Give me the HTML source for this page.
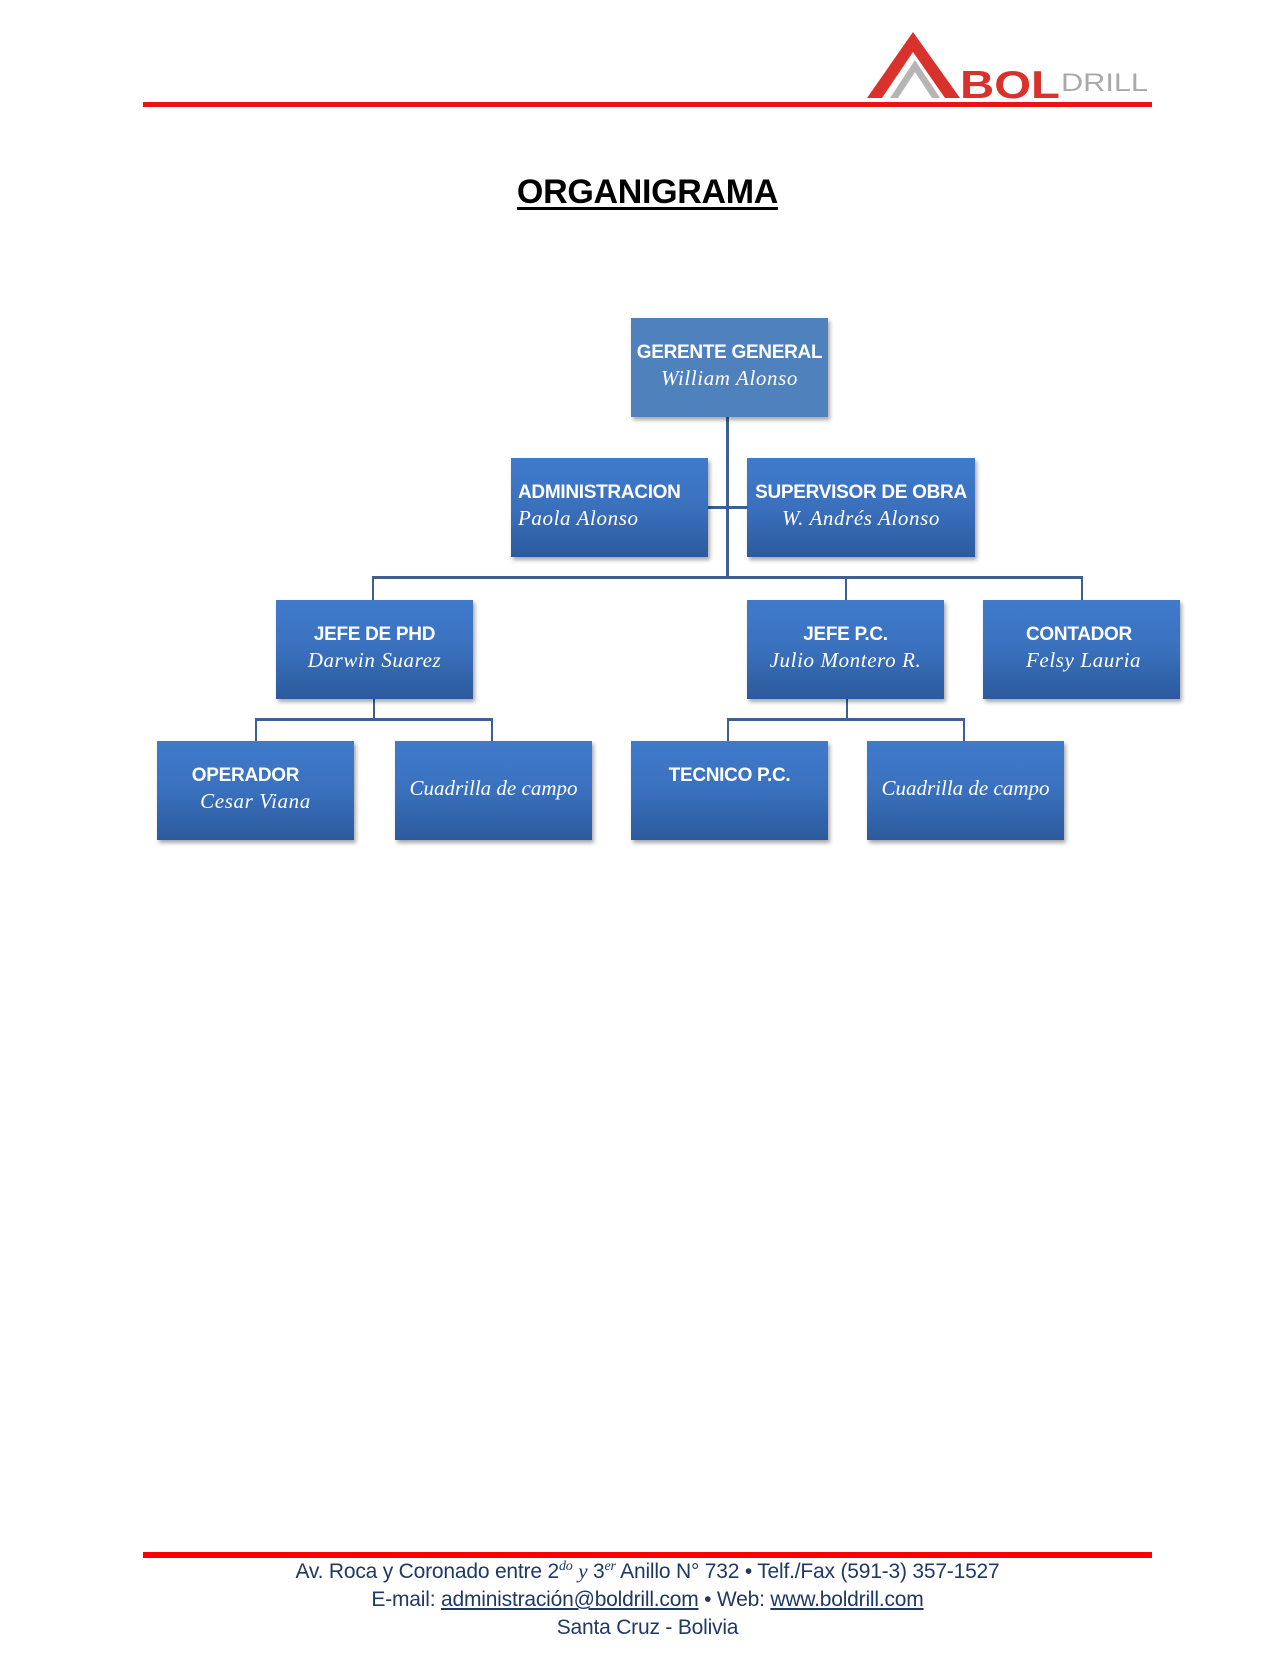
<!DOCTYPE html>
<html><head><meta charset="utf-8"><style>
body{margin:0;width:1275px;height:1672px;background:#fff;position:relative;overflow:hidden;font-family:"Liberation Sans",sans-serif}
.abs{position:absolute}
.box{position:absolute;width:197px;height:99px;background:linear-gradient(#3f7acb 0%,#3b72c0 45%,#2c5a9c 100%);box-shadow:2px 3px 4px rgba(0,0,0,.35);color:#fff;text-align:center;box-sizing:border-box;padding-top:26px}
.t{font-family:"Liberation Sans",sans-serif;font-weight:bold;font-size:19px;line-height:25px;letter-spacing:-.3px}
.n{font-family:"Liberation Serif","DejaVu Serif",serif;font-style:italic;font-size:21px;line-height:26px;letter-spacing:.6px}
.l{position:absolute;background:#3d5f91}
.f{position:absolute;left:0;width:1295px;text-align:center;color:#1f3864;font-size:21px;letter-spacing:-.2px}
</style></head><body>
<!-- header -->
<div class="abs" style="left:143px;top:102px;width:1009px;height:5px;background:#e8141a"></div>
<svg class="abs" style="left:860px;top:20px" width="300" height="90">
<polygon points="7,78 53,12 100,78 85,78 53,32 22,78" fill="#d9322c"/>
<polygon points="30,78 55,40 80,78 72,78 55,52 38,78" fill="#b5b5b5"/>
<text x="100" y="78" font-family="Liberation Sans" font-weight="bold" font-size="39" fill="#d9322c" textLength="100" lengthAdjust="spacingAndGlyphs">BOL</text>
<text x="201" y="71" font-family="Liberation Sans" font-size="25" fill="#a9a9a9" textLength="87" lengthAdjust="spacingAndGlyphs">DRILL</text>
</svg>
<div class="abs" style="left:0;width:1295px;top:173px;text-align:center;font-weight:bold;font-size:34px;text-decoration:underline;text-decoration-thickness:3px;text-underline-offset:4px;letter-spacing:-.3px">ORGANIGRAMA</div>

<!-- connectors -->
<div class="l" style="left:726px;top:415px;width:3px;height:164px"></div>
<div class="l" style="left:707px;top:506px;width:40px;height:3px"></div>
<div class="l" style="left:372px;top:576px;width:711px;height:3px"></div>
<div class="l" style="left:372px;top:576px;width:2px;height:24px"></div>
<div class="l" style="left:845px;top:576px;width:2px;height:24px"></div>
<div class="l" style="left:1081px;top:576px;width:2px;height:24px"></div>
<div class="l" style="left:373px;top:699px;width:2px;height:21px"></div>
<div class="l" style="left:255px;top:718px;width:237px;height:3px"></div>
<div class="l" style="left:255px;top:718px;width:2px;height:23px"></div>
<div class="l" style="left:491px;top:718px;width:2px;height:23px"></div>
<div class="l" style="left:846px;top:699px;width:2px;height:21px"></div>
<div class="l" style="left:727px;top:718px;width:237px;height:3px"></div>
<div class="l" style="left:727px;top:718px;width:2px;height:23px"></div>
<div class="l" style="left:963px;top:718px;width:2px;height:23px"></div>

<!-- boxes -->
<div class="box" style="left:631px;top:318px;background:#4f81bd;padding-top:22px"><div class="t">GERENTE GENERAL</div><div class="n">William Alonso</div></div>
<div class="box" style="left:511px;top:458px;text-align:left;padding-left:7px;padding-top:22px"><div class="t">ADMINISTRACION</div><div class="n">Paola Alonso</div></div>
<div class="box" style="left:747px;top:458px;width:228px;padding-top:22px"><div class="t">SUPERVISOR DE OBRA</div><div class="n">W. Andrés Alonso</div></div>
<div class="box" style="left:276px;top:600px;padding-top:22px"><div class="t">JEFE DE PHD</div><div class="n">Darwin Suarez</div></div>
<div class="box" style="left:747px;top:600px;padding-top:22px"><div class="t">JEFE P.C.</div><div class="n">Julio Montero R.</div></div>
<div class="box" style="left:983px;top:600px;text-align:left;padding-left:43px;padding-top:22px"><div class="t">CONTADOR</div><div class="n">Felsy Lauria</div></div>
<div class="box" style="left:157px;top:741px;padding-top:22px"><div class="t" style="margin-right:20px">OPERADOR</div><div class="n">Cesar Viana</div></div>
<div class="box" style="left:395px;top:741px;padding-top:34px"><div class="n" style="letter-spacing:0;white-space:nowrap">Cuadrilla de campo</div></div>
<div class="box" style="left:631px;top:741px;padding-top:22px"><div class="t">TECNICO P.C.</div></div>
<div class="box" style="left:867px;top:741px;padding-top:34px"><div class="n" style="letter-spacing:0;white-space:nowrap">Cuadrilla de campo</div></div>

<!-- footer -->
<div class="abs" style="left:143px;top:1552px;width:1009px;height:6px;background:#ff0000"></div>
<div class="f" style="top:1559px">Av. Roca y Coronado entre 2<sup style="font-family:'Liberation Serif',serif;font-style:italic;font-size:14px">do</sup> <i style="font-family:'Liberation Serif',serif">y</i> 3<sup style="font-family:'Liberation Serif',serif;font-style:italic;font-size:14px">er</sup> Anillo N° 732 • Telf./Fax (591-3) 357-1527</div>
<div class="f" style="top:1588px">E-mail: <u>administración@boldrill.com</u> • Web: <u>www.boldrill.com</u></div>
<div class="f" style="top:1616px">Santa Cruz - Bolivia</div>
</body></html>
